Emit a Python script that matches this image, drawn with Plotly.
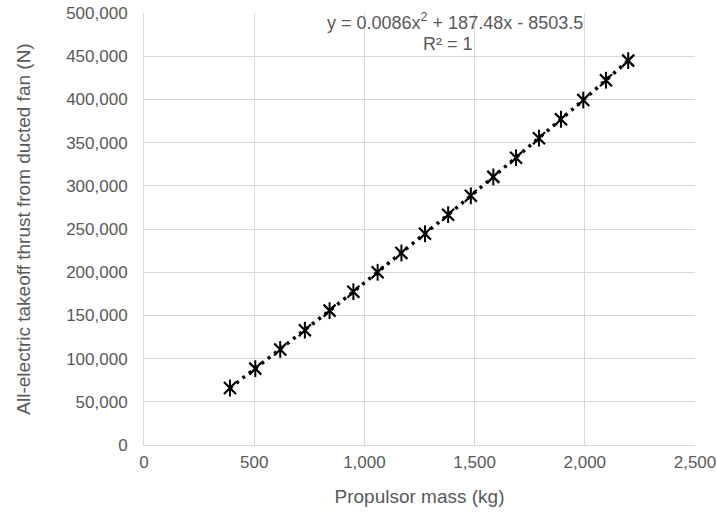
import plotly.graph_objects as go

# Data
propulsor_mass_kg = [390, 505, 618, 730, 842, 950, 1060, 1168, 1275, 1380,
                     1483, 1585, 1688, 1792, 1892, 1993, 2096, 2197]
thrust_N = [65900, 88400, 110600, 132900, 155500, 177400, 199900, 222200, 244500,
            266600, 288400, 310300, 332500, 355100, 377000, 399300, 422200, 444900]

x_ticks = [0, 500, 1000, 1500, 2000, 2500]
y_ticks = [0, 50000, 100000, 150000, 200000, 250000, 300000, 350000, 400000, 450000, 500000]

equation_text = "y = 0.0086x<sup>2</sup> + 187.48x - 8503.5"
r2_text = "R² = 1"
x_title = "Propulsor mass (kg)"
y_title = "All-electric takeoff thrust from ducted fan (N)"

FONT = "Liberation Sans, Arial, Helvetica, sans-serif"
GREY = "#595959"
GRID = "#d9d9d9"

fig = go.Figure()

# dotted polynomial trendline through the data
fig.add_trace(go.Scatter(
    x=propulsor_mass_kg, y=thrust_N, mode="lines",
    line=dict(color="black", width=3.5, dash="3px,5px"),
    hoverinfo="skip", showlegend=False))

# star markers (X + vertical bar)
fig.add_trace(go.Scatter(
    x=propulsor_mass_kg, y=thrust_N, mode="markers",
    marker=dict(symbol="x-thin-open", size=12, color="black",
                line=dict(color="black", width=2.2)),
    showlegend=False))
fig.add_trace(go.Scatter(
    x=propulsor_mass_kg, y=thrust_N, mode="markers",
    marker=dict(symbol="line-ns-open", size=12, color="black",
                line=dict(color="black", width=2)),
    showlegend=False, hoverinfo="skip"))

fig.update_layout(
    width=717, height=518,
    margin=dict(l=144, r=22, t=13, b=73, autoexpand=False),
    paper_bgcolor="white", plot_bgcolor="white",
    font=dict(family=FONT, color=GREY, size=17),
    xaxis=dict(
        range=[0, 2500], tickvals=x_ticks, tickformat=",d",
        showgrid=True, gridcolor=GRID, gridwidth=1,
        showline=True, linecolor=GRID, linewidth=1, zeroline=False,
        ticks="", ticklabelstandoff=2, automargin=False,
        tickfont=dict(size=17, color=GREY),
        title=dict(text=x_title, font=dict(size=19, color=GREY), standoff=18),
    ),
    yaxis=dict(
        range=[0, 500000], tickvals=y_ticks, tickformat=",d",
        showgrid=True, gridcolor=GRID, gridwidth=1,
        showline=True, linecolor=GRID, linewidth=1, zeroline=False,
        ticks="", ticklabelstandoff=12, automargin=False,
        tickfont=dict(size=17, color=GREY),
        title=dict(text=y_title, font=dict(size=19, color=GREY), standoff=30),
    ),
    annotations=[
        dict(x=1409, y=490700, xref="x", yref="y", text=equation_text,
             showarrow=False, font=dict(size=18, color=GREY, family=FONT),
             xanchor="center", yanchor="middle"),
        dict(x=1380, y=464100, xref="x", yref="y", text=r2_text,
             showarrow=False, font=dict(size=18, color=GREY, family=FONT),
             xanchor="center", yanchor="middle"),
    ],
)

fig.write_html("out.html")
